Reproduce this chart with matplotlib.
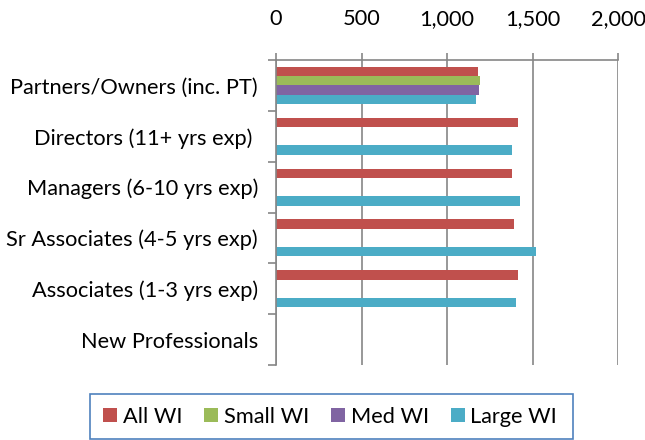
import numpy as np
import matplotlib
matplotlib.use("Agg")
import matplotlib.pyplot as plt
from matplotlib.patches import Rectangle

plt.rcParams['font.family'] = ['Lato', 'DejaVu Sans']

# data (nan = no bar)
categories = ['Partners/Owners (inc. PT)', 'Directors (11+ yrs exp) ',
              'Managers (6-10 yrs exp)', 'Sr Associates (4-5 yrs exp)',
              'Associates (1-3 yrs exp)', 'New Professionals']
series = ['All WI', 'Small WI', 'Med WI', 'Large WI']
all_wi = [1179, 1417, 1378, 1394, 1417, np.nan]
small_wi = [1193, np.nan, np.nan, np.nan, np.nan, np.nan]
med_wi = [1187, np.nan, np.nan, np.nan, np.nan, np.nan]
large_wi = [1170, 1382, 1429, 1518, 1405, np.nan]
xticks = [0, 500, 1000, 1500, 2000]

colors = ['#C0504D', '#9BBB59', '#8064A2', '#4BACC6']
values = [all_wi, small_wi, med_wi, large_wi]
fs = 15.7

fig = plt.figure(figsize=(6.45, 4.4), dpi=100)
ax = fig.add_axes([276 / 645, 1 - 365 / 440, 342 / 645, 305 / 440])

y = np.arange(len(categories))
h = 1 / 5.5
for j, (name, vals, c) in enumerate(zip(series, values, colors)):
    ax.barh(y + (j - 1.5) * h, vals, height=h, color=c, label=name)

ax.set_xlim(0, 2000)
ax.set_ylim(len(categories) - 0.5, -0.5)
ax.xaxis.tick_top()
ax.set_xticks(xticks)
ax.set_xticklabels([f'{v:,}' for v in xticks])
ax.set_yticks(y)
ax.set_yticklabels(categories)
ax.set_yticks(np.arange(len(categories) + 1) - 0.5, minor=True)

grey = '#868686'
ax.grid(axis='x', color=grey, linewidth=1.2)
ax.set_axisbelow(True)
for s in ['right', 'bottom']:
    ax.spines[s].set_visible(False)
for s in ['top', 'left']:
    ax.spines[s].set_color(grey)
    ax.spines[s].set_linewidth(1.2)

ax.tick_params(axis='x', which='major', length=5, color=grey, width=1.2,
               labelsize=fs, pad=17)
ax.tick_params(axis='y', which='major', length=0, labelsize=fs, pad=13)
ax.tick_params(axis='y', which='minor', length=6, color=grey, width=1.2)

# legend box
fig.patches.append(Rectangle((90 / 645, 1 - 439 / 440), 483 / 645, 45 / 440,
                             transform=fig.transFigure, fill=False,
                             edgecolor='#4F81BD', linewidth=1.2))
fig.legend(loc='center', bbox_to_anchor=(330 / 645, 1 - 416.5 / 440),
           ncol=4, frameon=False, fontsize=fs, handlelength=0.64,
           handleheight=0.64, handletextpad=0.27, columnspacing=1.0)

fig.savefig('out.png', dpi=100)
